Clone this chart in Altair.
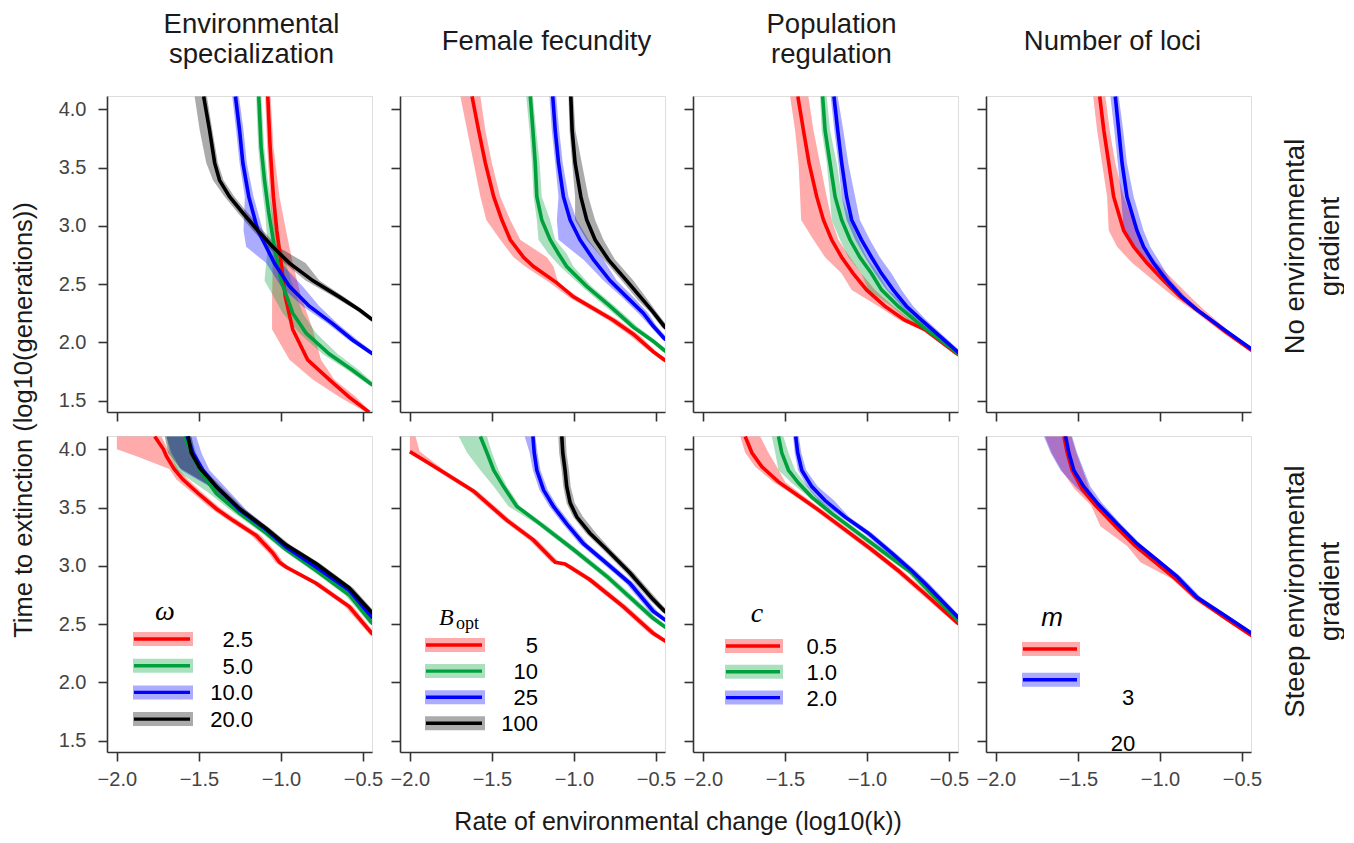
import altair as alt
import pandas as pd

FONT = "Liberation Sans"
RED, GREEN, BLUE, BLACK = "#ff0000", "#00a03c", "#0000ff", "#000000"

X_TICKS = [-2.0, -1.5, -1.0, -0.5]
Y_TICKS = [1.5, 2.0, 2.5, 3.0, 3.5, 4.0]
XDOM = [-2.06, -0.445]
YDOM = [1.402, 4.114]

HEADERS = [["Environmental", "specialization"], "Female fecundity",
           ["Population", "regulation"], "Number of loci"]
ROW_LABELS = [["No environmental", "gradient"], ["Steep environmental", "gradient"]]
Y_TITLE = "Time to extinction (log10(generations))"
X_TITLE = "Rate of environmental change (log10(k))"

LEG_SYMBOLS = ["ω", "B", "c", "m"]
LEG_LABELS = [["2.5", "5.0", "10.0", "20.0"], ["5", "10", "25", "100"],
              ["0.5", "1.0", "2.0"], ["3", "20"]]

# ---------------- no environmental gradient (top row) ----------------
A1_red = dict(y=[4.11, 3.68, 3.25, 2.96, 2.68, 2.39, 2.11, 1.85, 1.68, 1.53, 1.40],
              x=[-1.080, -1.066, -1.046, -1.025, -0.999, -0.973, -0.928, -0.837, -0.705, -0.584, -0.462],
              lo=[-1.096, -1.084, -1.066, -1.050, -1.050, -1.054, -1.054, -0.948, -0.806, -0.644, -0.482],
              hi=[-1.063, -1.046, -1.009, -0.969, -0.928, -0.877, -0.806, -0.756, -0.675, -0.543, -0.452])
A1_green = dict(y=[4.11, 3.68, 3.39, 3.11, 2.82, 2.53, 2.25, 2.08, 1.90, 1.76, 1.63],
                x=[-1.135, -1.121, -1.100, -1.074, -1.040, -0.999, -0.928, -0.847, -0.705, -0.563, -0.44],
                lo=[-1.151, -1.139, -1.121, -1.096, -1.080, -1.100, -0.989, -0.888, -0.746, -0.594, -0.46],
                hi=[-1.119, -1.102, -1.080, -1.050, -0.999, -0.938, -0.867, -0.786, -0.654, -0.523, -0.42])
A1_blue = dict(y=[4.11, 3.82, 3.54, 3.25, 2.96, 2.82, 2.68, 2.48, 2.31, 2.16, 2.02, 1.90],
               x=[-1.277, -1.252, -1.232, -1.196, -1.141, -1.090, -1.040, -0.948, -0.827, -0.685, -0.563, -0.44],
               lo=[-1.297, -1.273, -1.252, -1.220, -1.228, -1.212, -1.090, -0.999, -0.867, -0.715, -0.588, -0.46],
               hi=[-1.256, -1.228, -1.208, -1.167, -1.110, -1.060, -0.999, -0.867, -0.766, -0.654, -0.533, -0.42])
A1_black = dict(y=[4.11, 3.82, 3.54, 3.39, 3.25, 3.11, 2.96, 2.82, 2.68, 2.53, 2.39, 2.28, 2.19],
                x=[-1.471, -1.435, -1.404, -1.374, -1.313, -1.232, -1.141, -1.050, -0.948, -0.806, -0.644, -0.523, -0.44],
                lo=[-1.526, -1.495, -1.455, -1.414, -1.343, -1.262, -1.171, -1.080, -0.979, -0.850, -0.675, -0.546, -0.46],
                hi=[-1.451, -1.418, -1.384, -1.350, -1.283, -1.202, -1.110, -1.019, -0.850, -0.766, -0.614, -0.502, -0.42])

B1_red = dict(y=[4.11, 3.82, 3.54, 3.25, 3.05, 2.88, 2.73, 2.65, 2.51, 2.39, 2.19, 2.07, 1.92, 1.84],
              x=[-1.621, -1.581, -1.540, -1.489, -1.439, -1.388, -1.307, -1.246, -1.104, -1.003, -0.760, -0.638, -0.517, -0.44],
              lo=[-1.692, -1.651, -1.611, -1.570, -1.534, -1.449, -1.368, -1.297, -1.145, -1.033, -0.790, -0.669, -0.537, -0.46],
              hi=[-1.570, -1.540, -1.500, -1.449, -1.388, -1.327, -1.165, -1.125, -1.095, -0.973, -0.729, -0.608, -0.496, -0.42])
B1_green = dict(y=[4.11, 3.82, 3.54, 3.25, 3.05, 2.88, 2.76, 2.65, 2.48, 2.31, 2.13, 2.01, 1.92],
                x=[-1.266, -1.250, -1.236, -1.226, -1.196, -1.145, -1.094, -1.044, -0.922, -0.780, -0.638, -0.517, -0.44],
                lo=[-1.291, -1.271, -1.256, -1.246, -1.226, -1.216, -1.155, -1.084, -0.952, -0.811, -0.659, -0.537, -0.46],
                hi=[-1.250, -1.230, -1.209, -1.196, -1.145, -1.114, -1.044, -1.003, -0.892, -0.750, -0.608, -0.496, -0.42])
B1_blue = dict(y=[4.11, 3.82, 3.54, 3.25, 3.05, 2.88, 2.71, 2.53, 2.39, 2.25, 2.14, 2.02],
               x=[-1.129, -1.114, -1.094, -1.064, -1.023, -0.963, -0.881, -0.780, -0.679, -0.577, -0.517, -0.44],
               lo=[-1.149, -1.135, -1.114, -1.094, -1.104, -1.094, -0.943, -0.820, -0.709, -0.608, -0.537, -0.46],
               hi=[-1.108, -1.090, -1.068, -1.033, -0.983, -0.912, -0.820, -0.740, -0.638, -0.547, -0.496, -0.42])
B1_black = dict(y=[4.11, 3.82, 3.54, 3.25, 3.05, 2.88, 2.71, 2.53, 2.36, 2.26, 2.12],
                x=[-1.019, -1.011, -0.993, -0.958, -0.922, -0.871, -0.790, -0.679, -0.577, -0.517, -0.44],
                lo=[-1.033, -1.027, -1.011, -0.993, -0.993, -0.922, -0.820, -0.709, -0.608, -0.537, -0.46],
                hi=[-1.003, -0.991, -0.952, -0.912, -0.871, -0.820, -0.750, -0.638, -0.547, -0.496, -0.42])

C1_red = dict(y=[4.11, 3.82, 3.54, 3.25, 3.05, 2.88, 2.73, 2.59, 2.45, 2.31, 2.19, 2.11, 1.89],
              x=[-1.421, -1.387, -1.353, -1.306, -1.265, -1.215, -1.154, -1.083, -1.002, -0.891, -0.769, -0.647, -0.44],
              lo=[-1.468, -1.438, -1.417, -1.407, -1.401, -1.326, -1.255, -1.154, -1.093, -0.931, -0.800, -0.667, -0.46],
              hi=[-1.357, -1.326, -1.286, -1.245, -1.215, -1.174, -1.103, -1.033, -0.951, -0.840, -0.729, -0.627, -0.42])
C1_green = dict(y=[4.11, 3.82, 3.54, 3.25, 3.05, 2.88, 2.73, 2.59, 2.45, 2.31, 2.19, 2.12, 1.90],
                x=[-1.270, -1.255, -1.225, -1.194, -1.154, -1.103, -1.043, -0.972, -0.911, -0.810, -0.708, -0.647, -0.44],
                lo=[-1.286, -1.276, -1.245, -1.225, -1.215, -1.164, -1.113, -1.033, -0.992, -0.850, -0.748, -0.667, -0.46],
                hi=[-1.245, -1.225, -1.184, -1.154, -1.103, -1.052, -1.002, -0.931, -0.870, -0.748, -0.677, -0.627, -0.42])
C1_blue = dict(y=[4.11, 3.82, 3.54, 3.25, 3.05, 2.88, 2.73, 2.59, 2.45, 2.31, 2.19, 1.91],
               x=[-1.201, -1.178, -1.154, -1.124, -1.093, -1.033, -0.972, -0.911, -0.840, -0.759, -0.667, -0.44],
               lo=[-1.221, -1.199, -1.174, -1.154, -1.124, -1.072, -1.012, -0.951, -0.880, -0.789, -0.698, -0.46],
               hi=[-1.178, -1.144, -1.114, -1.072, -1.043, -0.982, -0.921, -0.850, -0.789, -0.718, -0.637, -0.42])

D1_red = dict(y=[4.11, 3.82, 3.54, 3.25, 2.96, 2.82, 2.68, 2.53, 2.39, 2.28, 2.09, 1.93],
              x=[-1.367, -1.342, -1.312, -1.282, -1.221, -1.160, -1.079, -0.978, -0.876, -0.775, -0.60, -0.44],
              lo=[-1.407, -1.383, -1.353, -1.322, -1.312, -1.261, -1.169, -1.039, -0.914, -0.803, -0.625, -0.46],
              hi=[-1.332, -1.306, -1.272, -1.221, -1.140, -1.100, -1.019, -0.914, -0.813, -0.732, -0.575, -0.42])
D1_blue = dict(y=[4.11, 3.82, 3.54, 3.25, 2.96, 2.82, 2.68, 2.53, 2.39, 2.28, 2.10, 1.94],
               x=[-1.272, -1.251, -1.231, -1.201, -1.140, -1.100, -1.039, -0.957, -0.866, -0.775, -0.60, -0.44],
               lo=[-1.302, -1.278, -1.257, -1.237, -1.221, -1.150, -1.069, -0.988, -0.887, -0.796, -0.62, -0.46],
               hi=[-1.251, -1.224, -1.201, -1.160, -1.100, -1.059, -0.998, -0.934, -0.843, -0.755, -0.58, -0.42])

# ---------------- steep environmental gradient (bottom row) ----------------
A2_red = dict(y=[4.11, 4.00, 3.94, 3.83, 3.74, 3.61, 3.49, 3.39, 3.26, 3.11, 3.03, 2.99, 2.85, 2.65, 2.41],
              x=[-1.769, -1.716, -1.698, -1.650, -1.597, -1.495, -1.394, -1.293, -1.151, -1.050, -1.009, -0.969, -0.786, -0.584, -0.44],
              lo=[-2.00, -2.00, -1.88, -1.68, -1.637, -1.526, -1.425, -1.323, -1.181, -1.075, -1.035, -0.995, -0.81, -0.61, -0.46],
              hi=[-1.728, -1.690, -1.672, -1.625, -1.566, -1.465, -1.364, -1.262, -1.121, -1.025, -0.985, -0.945, -0.76, -0.56, -0.42])
A2_green = dict(y=[4.11, 3.97, 3.82, 3.62, 3.45, 3.28, 3.14, 2.96, 2.75, 2.50],
                x=[-1.587, -1.546, -1.495, -1.394, -1.252, -1.090, -0.969, -0.786, -0.584, -0.44],
                lo=[-1.698, -1.678, -1.637, -1.435, -1.283, -1.115, -0.994, -0.811, -0.609, -0.46],
                hi=[-1.546, -1.516, -1.475, -1.364, -1.222, -1.065, -0.944, -0.761, -0.559, -0.42])
A2_blue = dict(y=[4.11, 3.97, 3.82, 3.68, 3.48, 3.31, 3.16, 2.99, 2.79, 2.55],
               x=[-1.572, -1.536, -1.475, -1.394, -1.252, -1.090, -0.969, -0.786, -0.584, -0.44],
               lo=[-1.698, -1.668, -1.607, -1.435, -1.283, -1.115, -0.994, -0.811, -0.609, -0.46],
               hi=[-1.516, -1.485, -1.435, -1.343, -1.212, -1.065, -0.944, -0.761, -0.559, -0.42])
A2_black = dict(y=[4.11, 3.97, 3.84, 3.68, 3.49, 3.32, 3.18, 3.02, 2.81, 2.59],
                x=[-1.566, -1.546, -1.495, -1.394, -1.252, -1.090, -0.969, -0.786, -0.584, -0.44],
                lo=[-1.708, -1.688, -1.617, -1.425, -1.280, -1.115, -0.994, -0.811, -0.609, -0.46],
                hi=[-1.546, -1.526, -1.475, -1.364, -1.225, -1.065, -0.944, -0.761, -0.559, -0.42])

B2_red = dict(y=[4.11, 3.98, 3.82, 3.64, 3.39, 3.22, 3.03, 3.015, 2.88, 2.65, 2.42, 2.35],
              x=[None, -2.0, -1.814, -1.611, -1.408, -1.246, -1.114, -1.054, -0.902, -0.699, -0.517, -0.44],
              lo=[-2.0, -2.0, -1.84, -1.636, -1.433, -1.271, -1.139, -1.079, -0.927, -0.724, -0.542, -0.46],
              hi=[-1.965, -1.94, -1.79, -1.586, -1.383, -1.221, -1.089, -1.029, -0.877, -0.674, -0.492, -0.42])
B2_green = dict(y=[4.11, 3.97, 3.82, 3.68, 3.51, 3.36, 3.14, 2.91, 2.55, 2.47],
                x=[-1.570, -1.530, -1.489, -1.429, -1.348, -1.206, -1.003, -0.800, -0.517, -0.44],
                lo=[-1.702, -1.651, -1.570, -1.489, -1.398, -1.231, -1.028, -0.825, -0.542, -0.46],
                hi=[-1.530, -1.500, -1.459, -1.408, -1.327, -1.181, -0.978, -0.775, -0.492, -0.42])
B2_blue = dict(y=[4.11, 3.97, 3.82, 3.65, 3.51, 3.36, 3.19, 3.02, 2.85, 2.61, 2.53],
               x=[-1.250, -1.242, -1.226, -1.185, -1.125, -1.044, -0.942, -0.800, -0.659, -0.517, -0.44],
               lo=[-1.30, -1.27, -1.25, -1.21, -1.15, -1.069, -0.967, -0.825, -0.684, -0.542, -0.46],
               hi=[-1.235, -1.222, -1.204, -1.160, -1.100, -1.019, -0.917, -0.775, -0.634, -0.492, -0.42])
B2_black = dict(y=[4.11, 3.97, 3.82, 3.68, 3.54, 3.42, 3.28, 3.14, 2.94, 2.71, 2.60],
                x=[-1.074, -1.068, -1.054, -1.044, -1.023, -0.983, -0.902, -0.800, -0.659, -0.517, -0.44],
                lo=[-1.095, -1.09, -1.075, -1.065, -1.045, -1.005, -0.927, -0.825, -0.684, -0.542, -0.46],
                hi=[-1.05, -1.045, -1.03, -1.02, -0.995, -0.945, -0.865, -0.775, -0.634, -0.492, -0.42])

C2_red = dict(y=[4.11, 3.97, 3.85, 3.72, 3.62, 3.48, 3.31, 3.14, 2.96, 2.76, 2.50],
              x=[-1.742, -1.701, -1.640, -1.539, -1.438, -1.296, -1.134, -0.972, -0.810, -0.647, -0.44],
              lo=[-1.772, -1.742, -1.681, -1.570, -1.463, -1.321, -1.159, -0.997, -0.835, -0.672, -0.46],
              hi=[-1.650, -1.600, -1.549, -1.498, -1.407, -1.271, -1.109, -0.947, -0.785, -0.622, -0.42])
C2_green = dict(y=[4.11, 3.97, 3.82, 3.71, 3.59, 3.45, 3.28, 3.11, 2.94, 2.82, 2.52],
                x=[-1.539, -1.519, -1.478, -1.417, -1.336, -1.215, -1.053, -0.891, -0.728, -0.647, -0.44],
                lo=[-1.580, -1.559, -1.539, -1.458, -1.357, -1.240, -1.078, -0.916, -0.753, -0.672, -0.46],
                hi=[-1.509, -1.478, -1.438, -1.377, -1.306, -1.190, -1.028, -0.866, -0.703, -0.622, -0.42])
C2_blue = dict(y=[4.11, 3.97, 3.82, 3.68, 3.56, 3.42, 3.28, 3.11, 2.96, 2.85, 2.55],
               x=[-1.434, -1.422, -1.397, -1.336, -1.255, -1.134, -0.992, -0.850, -0.728, -0.647, -0.44],
               lo=[-1.45, -1.44, -1.42, -1.365, -1.295, -1.159, -1.017, -0.875, -0.753, -0.672, -0.46],
               hi=[-1.415, -1.40, -1.37, -1.30, -1.20, -1.109, -0.967, -0.825, -0.703, -0.622, -0.42])

D2_red = dict(y=[4.11, 3.97, 3.82, 3.66, 3.52, 3.34, 3.17, 3.03, 2.89, 2.72, 2.55, 2.40],
              x=[-1.585, -1.565, -1.535, -1.474, -1.393, -1.271, -1.150, -1.028, -0.907, -0.775, -0.60, -0.44],
              lo=[-1.70, -1.66, -1.60, -1.52, -1.42, -1.363, -1.20, -1.119, -0.93, -0.80, -0.62, -0.46],
              hi=[-1.54, -1.51, -1.47, -1.43, -1.37, -1.25, -1.13, -1.00, -0.88, -0.75, -0.58, -0.42])
D2_blue = dict(y=[4.11, 3.97, 3.82, 3.68, 3.54, 3.36, 3.19, 3.05, 2.91, 2.73, 2.57, 2.42],
               x=[-1.575, -1.555, -1.525, -1.464, -1.383, -1.261, -1.140, -1.018, -0.897, -0.775, -0.60, -0.44],
               lo=[-1.707, -1.666, -1.606, -1.515, -1.414, -1.28, -1.16, -1.04, -0.92, -0.80, -0.62, -0.46],
               hi=[-1.535, -1.505, -1.464, -1.424, -1.353, -1.24, -1.12, -1.00, -0.875, -0.75, -0.58, -0.42])

PANEL_SERIES = [
    [[(RED, A1_red), (GREEN, A1_green), (BLUE, A1_blue), (BLACK, A1_black)],
     [(RED, B1_red), (GREEN, B1_green), (BLUE, B1_blue), (BLACK, B1_black)],
     [(RED, C1_red), (GREEN, C1_green), (BLUE, C1_blue)],
     [(RED, D1_red), (BLUE, D1_blue)]],
    [[(RED, A2_red), (GREEN, A2_green), (BLUE, A2_blue), (BLACK, A2_black)],
     [(RED, B2_red), (GREEN, B2_green), (BLUE, B2_blue), (BLACK, B2_black)],
     [(RED, C2_red), (GREEN, C2_green), (BLUE, C2_blue)],
     [(RED, D2_red), (BLUE, D2_blue)]],
]
LEG_COLORS = [[RED, GREEN, BLUE, BLACK], [RED, GREEN, BLUE, BLACK], [RED, GREEN, BLUE], [RED, BLUE]]

# ---------------- styling / layout constants ----------------
W, H = 265, 316
AX_COL = "#333333"
LAB_COL = "#444444"
TXT_COL = "#1a1a1a"
BAND_OPACITY = 0.33
LINE_W = 3.6
HEADER_DX = [12, 14, 6, -6]
HEADER_OFFSET = [27.5, 41, 27.5, 41]
ROW_TITLE_Y = [150, 155]

# legend geometry (pixels inside the panel)
LEG_SYM_POS = [(58, 176), (48, 182), (64, 178), (66, 182)]
LEG_BAND_X = [(26, 86), (25, 85), (32, 90), (36, 94)]
LEG_ROW_Y0 = [203, 209, 210, 213]
LEG_ROW_DY = [26.7, 26.1, 25.8, 30.7]
LEG_LABEL_X = [146, 138, 144, 0]
M_LABEL_POS = [(142, 262), (137, 308)]

one = pd.DataFrame({"k": [0]})


def sx():
    return alt.Scale(domain=XDOM, nice=False, zero=False)


def sy():
    return alt.Scale(domain=YDOM, nice=False, zero=False)


def x_axis(show):
    return alt.Axis(values=X_TICKS, format=".1f", labels=show, title=None, grid=False,
                    tickSize=9, tickWidth=1.6, tickColor=AX_COL, domainColor=AX_COL,
                    domainWidth=1.6, labelFontSize=20, labelColor=LAB_COL, labelFont=FONT,
                    labelPadding=8)


def y_axis(show):
    return alt.Axis(values=Y_TICKS, format=".1f", labels=show, title=None, grid=False,
                    tickSize=9, tickWidth=1.6, tickColor=AX_COL, domainColor=AX_COL,
                    domainWidth=1.6, labelFontSize=20, labelColor=LAB_COL, labelFont=FONT,
                    labelPadding=12)


def legend_layers(col):
    layers = []
    bx0, bx1 = LEG_BAND_X[col]
    for i, (lab, colr) in enumerate(zip(LEG_LABELS[col], LEG_COLORS[col])):
        yc = LEG_ROW_Y0[col] + i * LEG_ROW_DY[col]
        layers.append(alt.Chart(one).mark_rect(color=colr, opacity=BAND_OPACITY).encode(
            x=alt.value(bx0), x2=alt.value(bx1), y=alt.value(yc - 7), y2=alt.value(yc + 7)))
        layers.append(alt.Chart(one).mark_rule(color=colr, strokeWidth=3.4).encode(
            x=alt.value(bx0 + 1), x2=alt.value(bx1 - 3), y=alt.value(yc)))
        if col < 3:
            layers.append(alt.Chart(one).mark_text(align="right", baseline="middle", fontSize=22,
                                                   font=FONT, color="black").encode(
                x=alt.value(LEG_LABEL_X[col]), y=alt.value(yc + 1), text=alt.value(lab)))
        else:
            px, py = M_LABEL_POS[i]
            layers.append(alt.Chart(one).mark_text(align="center", baseline="middle", fontSize=22,
                                                   font=FONT, color="black").encode(
                x=alt.value(px), y=alt.value(py), text=alt.value(lab)))
    sxp, syp = LEG_SYM_POS[col]
    if col == 3:
        layers.append(alt.Chart(one).mark_text(fontSize=26, font=FONT, fontStyle="italic",
                                               baseline="middle", color="black").encode(
            x=alt.value(sxp), y=alt.value(syp), text=alt.value(LEG_SYMBOLS[col])))
    elif col == 1:
        layers.append(alt.Chart(one).mark_text(fontSize=24, font="Liberation Serif", fontStyle="italic",
                                               align="left", baseline="alphabetic", color="black").encode(
            x=alt.value(sxp - 9), y=alt.value(syp + 7), text=alt.value(LEG_SYMBOLS[col])))
        layers.append(alt.Chart(one).mark_text(fontSize=18, font="Liberation Serif",
                                               align="left", baseline="alphabetic", color="black").encode(
            x=alt.value(sxp + 8), y=alt.value(syp + 11), text=alt.value("opt")))
    else:
        layers.append(alt.Chart(one).mark_text(fontSize=28, font="Liberation Serif", fontStyle="italic",
                                               baseline="middle", color="black").encode(
            x=alt.value(sxp), y=alt.value(syp), text=alt.value(LEG_SYMBOLS[col])))
    return layers


def build_panel(row, col):
    series = PANEL_SERIES[row][col]
    xa = x_axis(row == 1)
    ya = y_axis(col == 0)
    last = col == 3
    areas, lines = [], []
    for k, (colr, s) in enumerate(series):
        df = pd.DataFrame({"y": s["y"], "x": s["x"], "lo": s["lo"], "hi": s["hi"]})
        df["i"] = list(range(len(df)))
        yax = ya if (not last or k == 0) else None
        areas.append(alt.Chart(df).mark_area(orient="horizontal", color=colr, opacity=BAND_OPACITY,
                                             clip=True).encode(
            y=alt.Y("y:Q", scale=sy(), axis=yax),
            x=alt.X("lo:Q", scale=sx(), axis=xa),
            x2="hi:Q"))
        lines.append(alt.Chart(df).mark_line(color=colr, strokeWidth=LINE_W, clip=True).encode(
            x=alt.X("x:Q", scale=sx(), axis=xa),
            y=alt.Y("y:Q", scale=sy(), axis=None if last else ya),
            order="i:Q"))
    layers = areas + lines
    if row == 1:
        layers += legend_layers(col)
    if last:
        s0 = series[0][1]
        dfr = pd.DataFrame({"y": s0["y"], "x": s0["x"]})
        ra = alt.Axis(orient="right", title=ROW_LABELS[row], titleAngle=270, titleBaseline="top",
                      titleAlign="center", titleX=30, titleY=ROW_TITLE_Y[row],
                      domain=False, ticks=False, labels=False, grid=False,
                      titleFontSize=27.5, titleFont=FONT, titleFontWeight="normal",
                      titleColor=TXT_COL, titleLineHeight=35)
        layers.append(alt.Chart(dfr).mark_line(opacity=0).encode(
            x=alt.X("x:Q", scale=sx(), axis=xa),
            y=alt.Y("y:Q", scale=sy(), axis=ra)))
    ch = alt.layer(*layers).properties(width=W, height=H)
    if last:
        ch = ch.resolve_axis(y="independent")
    if row == 0:
        ch = ch.properties(title=alt.TitleParams(
            text=HEADERS[col], fontSize=27.5, font=FONT, fontWeight="normal", color=TXT_COL,
            lineHeight=30, anchor="middle", dx=HEADER_DX[col], offset=HEADER_OFFSET[col]))
    return ch


panels = [build_panel(r, c) for r in range(2) for c in range(4)]

grid = alt.concat(*panels, columns=4, spacing={"row": 12, "column": 5}, align="each").properties(
    title=alt.TitleParams(text=Y_TITLE, orient="left", anchor="middle", fontSize=25.5, font=FONT,
                          fontWeight="normal", color=TXT_COL, offset=20, dx=-20))

chart = alt.vconcat(grid).properties(
    title=alt.TitleParams(text=X_TITLE, orient="bottom", anchor="middle", fontSize=25, font=FONT,
                          fontWeight="normal", color=TXT_COL, offset=20),
    padding={"left": 4, "top": 2, "right": 0, "bottom": 0},
).configure_view(stroke=None).configure(background="white")

chart.save("out.html", embed_options={"renderer": "svg", "actions": False})
